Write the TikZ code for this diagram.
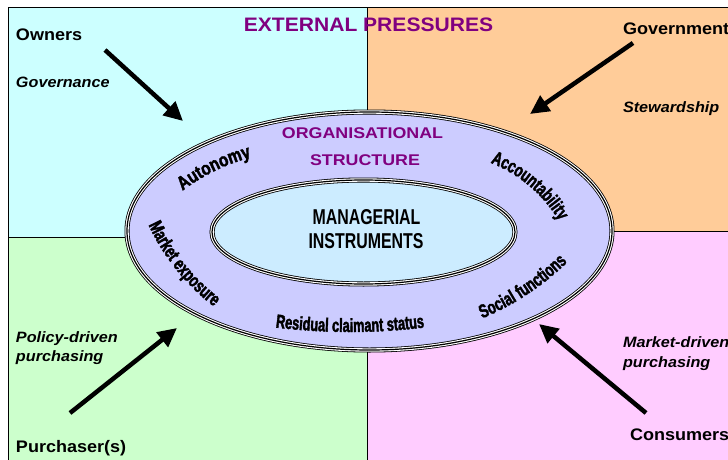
\documentclass[tikz,border=0pt]{standalone}
\usepackage{fontspec}
\setmainfont{Liberation Sans}
\newfontfamily\fwide[FakeStretch=1.08]{Liberation Sans}
\newfontfamily\fwider[FakeStretch=1.15]{Liberation Sans}
\newfontfamily\fnarrow[FakeStretch=0.74]{Liberation Sans Bold}
\newfontfamily\fcondA[FakeStretch=0.70,FakeBold=2]{Liberation Sans Bold}
\newfontfamily\fcondB[FakeStretch=0.67,FakeBold=2]{Liberation Sans Bold}
\newfontfamily\fcondC[FakeStretch=0.82,FakeBold=2]{Liberation Sans Bold}
\usetikzlibrary{arrows.meta,decorations.text,shapes.geometric}
\definecolor{qTL}{HTML}{CCFFFF}
\definecolor{qTR}{HTML}{FFCC99}
\definecolor{qBL}{HTML}{CCFFCC}
\definecolor{qBR}{HTML}{FFCCFF}
\definecolor{ellOut}{HTML}{CCCCFF}
\definecolor{ellIn}{HTML}{CCECFF}
\definecolor{purp}{HTML}{800080}
\newcommand\curvA{\fcondA\fontsize{19}{19}\selectfont}
\newcommand\curvB{\fcondB\fontsize{19}{19}\selectfont}
\newcommand\curvC{\fcondC\fontsize{19}{19}\selectfont}
\tikzset{
  quad/.style={draw=black, line width=0.8pt},
  lbl/.style={inner sep=0pt, outer sep=0pt},
  actor/.style={lbl, anchor=base west, font=\fwide\bfseries\fontsize{16.7}{18}\selectfont},
  role/.style={lbl, anchor=base west, font=\fwide\bfseries\itshape\fontsize{15}{18}\selectfont},
  triple/.style={draw=black, line width=5pt,
    postaction={draw=white, line width=3.4pt},
    postaction={draw=black, line width=1.2pt}},
  bigarrow/.style={line width=4.5pt, -{Triangle[length=19pt,width=18pt]}},
}
\begin{document}
\begin{tikzpicture}[x=1pt,y=1pt]
\useasboundingbox (0,0) rectangle (728,459);
\fill[white] (0,0) rectangle (728,459);
\clip (0,0) rectangle (728,459);
% quadrants
\path[quad, fill=qTL] (8,222) rectangle (367,452);
\path[quad, fill=qTR] (367,228) rectangle (740,452);
\path[quad, fill=qBL] (8,-10) rectangle (367,222);
\path[quad, fill=qBR] (367,-10) rectangle (740,228);
% ellipses
\node[ellipse, lbl, minimum width=485pt, minimum height=238pt, fill=ellOut, triple] (outer) at (369.5,228) {};
\node[ellipse, lbl, minimum width=303pt, minimum height=104pt, fill=ellIn, triple] (inner) at (363.5,227) {};
% titles
\node[lbl, anchor=base, text=purp, font=\fwide\bfseries\fontsize{19.5}{22}\selectfont] (ext) at (368.5,427) {EXTERNAL PRESSURES};
\node[lbl, anchor=base, text=purp, font=\fwider\bfseries\fontsize{15.5}{18}\selectfont] (org1) at (362.5,321) {ORGANISATIONAL};
\node[lbl, anchor=base, text=purp, font=\fwider\bfseries\fontsize{15.5}{18}\selectfont] (org2) at (365,294) {STRUCTURE};
\node[lbl, anchor=base, font=\fnarrow\fontsize{21.5}{24}\selectfont] (man1) at (366.5,235) {MANAGERIAL};
\node[lbl, anchor=base, font=\fnarrow\fontsize{21.5}{24}\selectfont] (man2) at (366,211) {INSTRUMENTS};
% actors and roles
\node[actor] (owners) at (16,418) {Owners};
\node[role] (gov) at (16,372) {Governance};
\node[actor] (govt) at (623,424) {Government};
\node[role] (stew) at (623,347) {Stewardship};
\node[role] (pol1) at (16,117) {Policy-driven};
\node[role] (pol2) at (16,98) {purchasing};
\node[actor] (purch) at (16,7) {Purchaser(s)};
\node[role] (mkt1) at (623,112) {Market-driven};
\node[role] (mkt2) at (623,92) {purchasing};
\node[actor] (cons) at (630,19) {Consumers};
% arrows
\coordinate (ownS) at (105,409); \coordinate (ownT) at (183,338);
\coordinate (govS) at (633,416); \coordinate (govT) at (530,345);
\coordinate (purS) at (70,46);   \coordinate (purT) at (177,131);
\coordinate (conS) at (646,46);  \coordinate (conT) at (539,135);
\draw[bigarrow] (ownS) -- (ownT);
\draw[bigarrow] (govS) -- (govT);
\draw[bigarrow] (purS) -- (purT);
\draw[bigarrow] (conS) -- (conT);
% curved labels
\coordinate (cAut) at (302.7,108.4);
\coordinate (cAcc) at (438.9,166.1);
\coordinate (cMkt) at (348,326.8);
\coordinate (cRes) at (350,746);
\coordinate (cSoc) at (372.9,398.2);
\path[decorate, decoration={text along path, text align=center, text={|\curvC|Autonomy}}]
  (cAut) ++(135.9:200) arc[start angle=135.9, end angle=95.9, radius=200];
\path[decorate, decoration={text along path, text align=center, text={|\curvA|Accountability}}]
  (cAcc) ++(74.6:140) arc[start angle=74.6, end angle=24.6, radius=140];
\path[decorate, decoration={text along path, text align=center, text={|\curvA|Market exposure}}]
  (cMkt) ++(193.7:220) arc[start angle=193.7, end angle=243.7, radius=220];
\path[decorate, decoration={text along path, text align=center, text={|\curvA|Social functions}}]
  (cSoc) ++(288.5:280) arc[start angle=288.5, end angle=318.5, radius=280];
\path[decorate, decoration={text along path, text align=center, text={|\curvB|Residual claimant status}}]
  (cRes) ++(260:619) arc[start angle=260, end angle=280, radius=619];
\end{tikzpicture}
\end{document}
